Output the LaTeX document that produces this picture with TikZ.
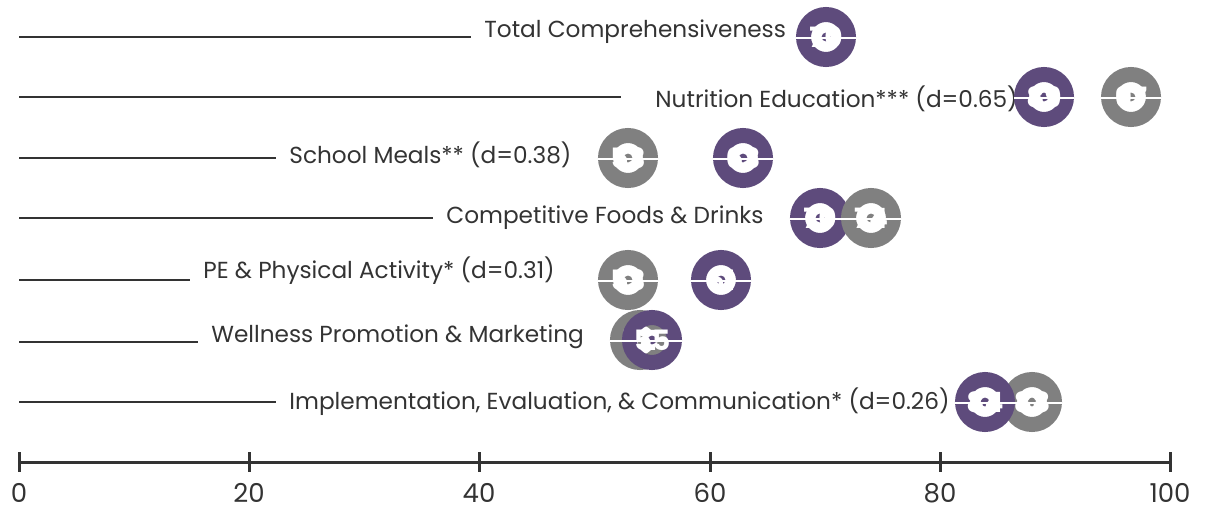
\documentclass[tikz,border=0pt]{standalone}
\usepackage{fontspec}
\setmainfont{Poppins}
\usetikzlibrary{positioning}
\definecolor{ringpurple}{RGB}{94,75,124}
\definecolor{ringgray}{RGB}{128,128,128}
\definecolor{inkgray}{RGB}{51,51,51}

\begin{document}
\begin{tikzpicture}[x=0.5pt, y=-0.5pt,
               rowlabel/.style={anchor=west, inner sep=0pt, text=inkgray, font=\fontsize{11.6}{13}\selectfont},
               guide/.style={inkgray, line width=0.6pt},
               ring/.style={circle, draw=#1, line width=7.5pt, minimum size=22.5pt, inner sep=0pt,
                  text=white, font=\bfseries\fontsize{14}{16}\selectfont,
                  path picture={\fill[#1] (path picture bounding box.center) circle (2.2pt);}},
               cut/.style={white, line width=1pt},
               ticklabel/.style={inner sep=0.5pt, text=inkgray, font=\fontsize{13}{15}\selectfont}]

  \useasboundingbox (0,0) rectangle (1205,510);

  %rows: guide start, label
  \coordinate (g1) at (19,37);
  \coordinate (g2) at (19,97);
  \coordinate (g3) at (19,158);
  \coordinate (g4) at (19,218);
  \coordinate (g5) at (19,280);
  \coordinate (g6) at (19,342);
  \coordinate (g7) at (19,402);

  \node[rowlabel] (lab1) at (484,32) {Total Comprehensiveness};
  \node[rowlabel] (lab2) at (655,99) {Nutrition Education*** (d=0.65)};
  \node[rowlabel] (lab3) at (289,155) {School Meals** (d=0.38)};
  \node[rowlabel] (lab4) at (446,218) {Competitive Foods \& Drinks};
  \node[rowlabel] (lab5) at (203,271) {PE \& Physical Activity* (d=0.31)};
  \node[rowlabel] (lab6) at (211,337) {Wellness Promotion \& Marketing};
  \node[rowlabel] (lab7) at (289,402) {Implementation, Evaluation, \& Communication* (d=0.26)};

  \path[guide] (g1) edge[shorten >=6.5pt] (g1 -| lab1.west);
  \path[guide] (g2) edge[shorten >=17pt] (g2 -| lab2.west);
  \path[guide] (g3) edge[shorten >=6.5pt] (g3 -| lab3.west);
  \path[guide] (g4) edge[shorten >=6.5pt] (g4 -| lab4.west);
  \path[guide] (g5) edge[shorten >=6.5pt] (g5 -| lab5.west);
  \path[guide] (g6) edge[shorten >=6.5pt] (g6 -| lab6.west);
  \path[guide] (g7) edge[shorten >=6.5pt] (g7 -| lab7.west);

  %donuts, later ones on top
  \node[ring=ringpurple] (tot) at (826,37) {70};

  \node[ring=ringpurple] (nut1) at (1044,97) {89};
  \node[ring=ringgray] (nut2) at (1131,97) {97};

  \node[ring=ringgray] (sch1) at (628,158) {53};
  \node[ring=ringpurple] (sch2) at (743,158) {63};

  \node[ring=ringpurple] (com1) at (820,218) {70};
  \node[ring=ringgray] (com2) at (871,218) {74};

  \node[ring=ringgray] (pe1) at (628,280) {53};
  \node[ring=ringpurple] (pe2) at (721,280) {61};

  \node[ring=ringgray] (wel1) at (640,340) {54};
  \node[ring=ringpurple] (wel2) at (652,340) {55};

  \node[ring=ringgray] (imp2) at (1032,402) {88};
  \node[ring=ringpurple] (imp1) at (985,402) {84};

  \draw[cut] ([yshift=-0.5pt]tot.west) -- ([yshift=-0.5pt]tot.east);
  \draw[cut] ([yshift=-0.5pt]nut1.west) -- ([yshift=-0.5pt]nut1.east);
  \draw[cut] ([yshift=-0.5pt]nut2.west) -- ([yshift=-0.5pt]nut2.east);
  \draw[cut] ([yshift=-0.5pt]sch1.west) -- ([yshift=-0.5pt]sch1.east);
  \draw[cut] ([yshift=-0.5pt]sch2.west) -- ([yshift=-0.5pt]sch2.east);
  \draw[cut] ([yshift=-0.5pt]com1.west) -- ([yshift=-0.5pt]com2.east);
  \draw[cut] ([yshift=-0.5pt]pe1.west) -- ([yshift=-0.5pt]pe1.east);
  \draw[cut] ([yshift=-0.5pt]pe2.west) -- ([yshift=-0.5pt]pe2.east);
  \draw[cut] ([yshift=-0.5pt]wel1.west) -- ([yshift=-0.5pt]wel2.east);
  \draw[cut] ([yshift=-0.5pt]imp1.west) -- ([yshift=-0.5pt]imp2.east);

  %axis
  \draw[inkgray, line width=1.5pt] (19,462) -- (1170,462);
  \draw[inkgray, line width=1.5pt] (19,452) -- (19,472);
  \draw[inkgray, line width=1.5pt] (249,452) -- (249,472);
  \draw[inkgray, line width=1.5pt] (479,452) -- (479,472);
  \draw[inkgray, line width=1.5pt] (710,452) -- (710,472);
  \draw[inkgray, line width=1.5pt] (940,452) -- (940,472);
  \draw[inkgray, line width=1.5pt] (1170,452) -- (1170,472);

  \node[ticklabel] (t0) at (19,493) {0};
  \node[ticklabel] (t20) at (249,493) {20};
  \node[ticklabel] (t40) at (479,493) {40};
  \node[ticklabel] (t60) at (710,493) {60};
  \node[ticklabel] (t80) at (940,493) {80};
  \node[ticklabel] (t100) at (1170,493) {100};

\end{tikzpicture}
\end{document}
